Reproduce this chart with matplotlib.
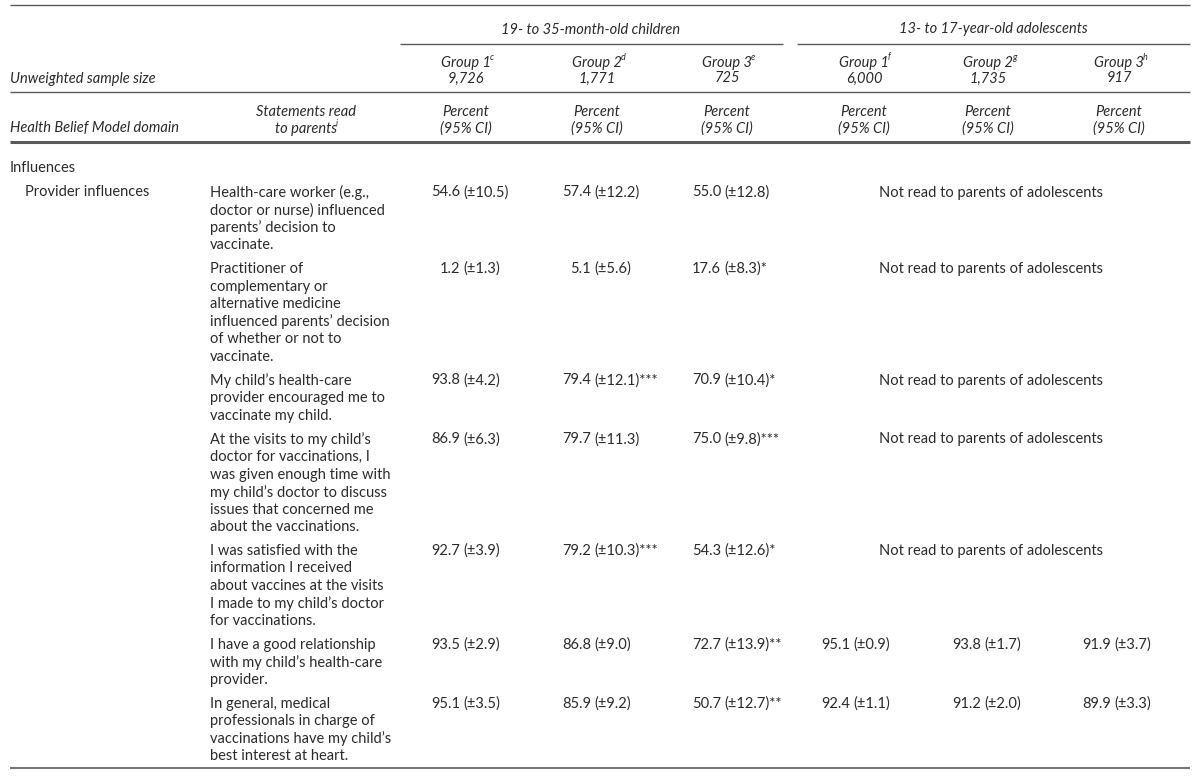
import matplotlib
matplotlib.use("Agg")
import matplotlib.pyplot as plt

plt.rcParams['font.family'] = ['Lato', 'DejaVu Sans']

# ---- table content ----
age_groups = ["19- to 35-month-old children", "13- to 17-year-old adolescents"]
group_names = ["Group 1", "Group 2", "Group 3", "Group 1", "Group 2", "Group 3"]
group_notes = ["c", "d", "e", "f", "g", "h"]
sample_sizes = ["9,726", "1,771", "725", "6,000", "1,735", "917"]

statements = [
    ["Health-care worker (e.g.,", "doctor or nurse) influenced",
     "parents\u2019 decision to", "vaccinate."],
    ["Practitioner of", "complementary or", "alternative medicine",
     "influenced parents\u2019 decision", "of whether or not to", "vaccinate."],
    ["My child\u2019s health-care", "provider encouraged me to",
     "vaccinate my child."],
    ["At the visits to my child\u2019s", "doctor for vaccinations, I",
     "was given enough time with", "my child\u2019s doctor to discuss",
     "issues that concerned me", "about the vaccinations."],
    ["I was satisfied with the", "information I received",
     "about vaccines at the visits", "I made to my child\u2019s doctor",
     "for vaccinations."],
    ["I have a good relationship", "with my child\u2019s health-care",
     "provider."],
    ["In general, medical", "professionals in charge of",
     "vaccinations have my child\u2019s", "best interest at heart."],
]

child_pct = [[54.6, 57.4, 55.0], [1.2, 5.1, 17.6], [93.8, 79.4, 70.9],
             [86.9, 79.7, 75.0], [92.7, 79.2, 54.3], [93.5, 86.8, 72.7],
             [95.1, 85.9, 50.7]]
child_ci = [[10.5, 12.2, 12.8], [1.3, 5.6, 8.3], [4.2, 12.1, 10.4],
            [6.3, 11.3, 9.8], [3.9, 10.3, 12.6], [2.9, 9.0, 13.9],
            [3.5, 9.2, 12.7]]
child_sig = [["", "", ""], ["", "", "*"], ["", "***", "*"],
             ["", "", "***"], ["", "***", "*"], ["", "", "**"],
             ["", "", "**"]]

adol_pct = [None, None, None, None, None,
            [95.1, 93.8, 91.9], [92.4, 91.2, 89.9]]
adol_ci = [None, None, None, None, None,
           [0.9, 1.7, 3.7], [1.1, 2.0, 3.3]]
adol_sig = [None, None, None, None, None,
            ["", "", ""], ["", "", ""]]

not_read = "Not read to parents of adolescents"

# ---- layout ----
TXT = '#2b2b2b'
RULE = '#5a5a5a'
FS = 10.5
col_x = [432, 563, 693, 822, 953, 1083]   # left edge of each value cell
col_c = [466, 597, 727, 864, 988, 1119]   # header centres

fig = plt.figure(figsize=(12, 7.8), dpi=100)
ax = fig.add_axes([0, 0, 1, 1])
ax.set_xlim(0, 1200)
ax.set_ylim(780, 0)
ax.axis('off')
renderer = fig.canvas.get_renderer()


def txt(x, y, s, **kw):
    kw.setdefault('fontsize', FS)
    kw.setdefault('color', TXT)
    kw.setdefault('va', 'center_baseline')
    return ax.text(x, y, s, **kw)


def with_note(x, y, s, note):
    # main text centred, small superscript hung on its right edge
    t = txt(x, y, s, ha='center', style='italic')
    bb = t.get_window_extent(renderer).transformed(ax.transData.inverted())
    right = max(bb.x0, bb.x1)
    txt(right - 1, y - 5, note, ha='left', style='italic', fontsize=6.5)


# rules
ax.hlines(5, 10, 1190, color=RULE, lw=1.0)
ax.hlines(44, 400, 783, color=RULE, lw=1.0)
ax.hlines(44, 797, 1190, color=RULE, lw=1.0)
ax.hlines(92, 10, 1190, color=RULE, lw=1.0)
ax.hlines(142, 10, 1190, color=RULE, lw=2.2)
ax.hlines(768, 10, 1190, color=RULE, lw=1.2)

# header
txt(591, 28, age_groups[0], ha='center', style='italic')
txt(993, 28, age_groups[1], ha='center', style='italic')
txt(10, 77, "Unweighted sample size", ha='left', style='italic')
for i in range(6):
    with_note(col_c[i], 61, group_names[i], group_notes[i])
    txt(col_c[i], 77, sample_sizes[i], ha='center', style='italic')
    txt(col_c[i], 111, "Percent", ha='center', style='italic')
    txt(col_c[i], 127, "(95% CI)", ha='center', style='italic')
txt(10, 127, "Health Belief Model domain", ha='left', style='italic')
txt(306, 111, "Statements read", ha='center', style='italic')
with_note(306, 127, "to parents", "i")

# body
txt(10, 166, "Influences", ha='left')
txt(25, 191, "Provider influences", ha='left')

LINE = 17.6
GAP = 6
y = 191
for r, lines in enumerate(statements):
    for k, line in enumerate(lines):
        txt(210, y + k * LINE, line, ha='left')
    for j in range(3):
        txt(col_x[j] + 28, y, f"{child_pct[r][j]:.1f}", ha='right')
        txt(col_x[j] + 31, y, f"(\u00b1{child_ci[r][j]:.1f}){child_sig[r][j]}",
            ha='left')
    if adol_pct[r] is None:
        txt(991, y, not_read, ha='center')
    else:
        for j in range(3):
            x0 = col_x[j + 3]
            txt(x0 + 28, y, f"{adol_pct[r][j]:.1f}", ha='right')
            txt(x0 + 31, y, f"(\u00b1{adol_ci[r][j]:.1f}){adol_sig[r][j]}",
                ha='left')
    y += len(lines) * LINE + GAP

fig.savefig("out.png", dpi=100)
